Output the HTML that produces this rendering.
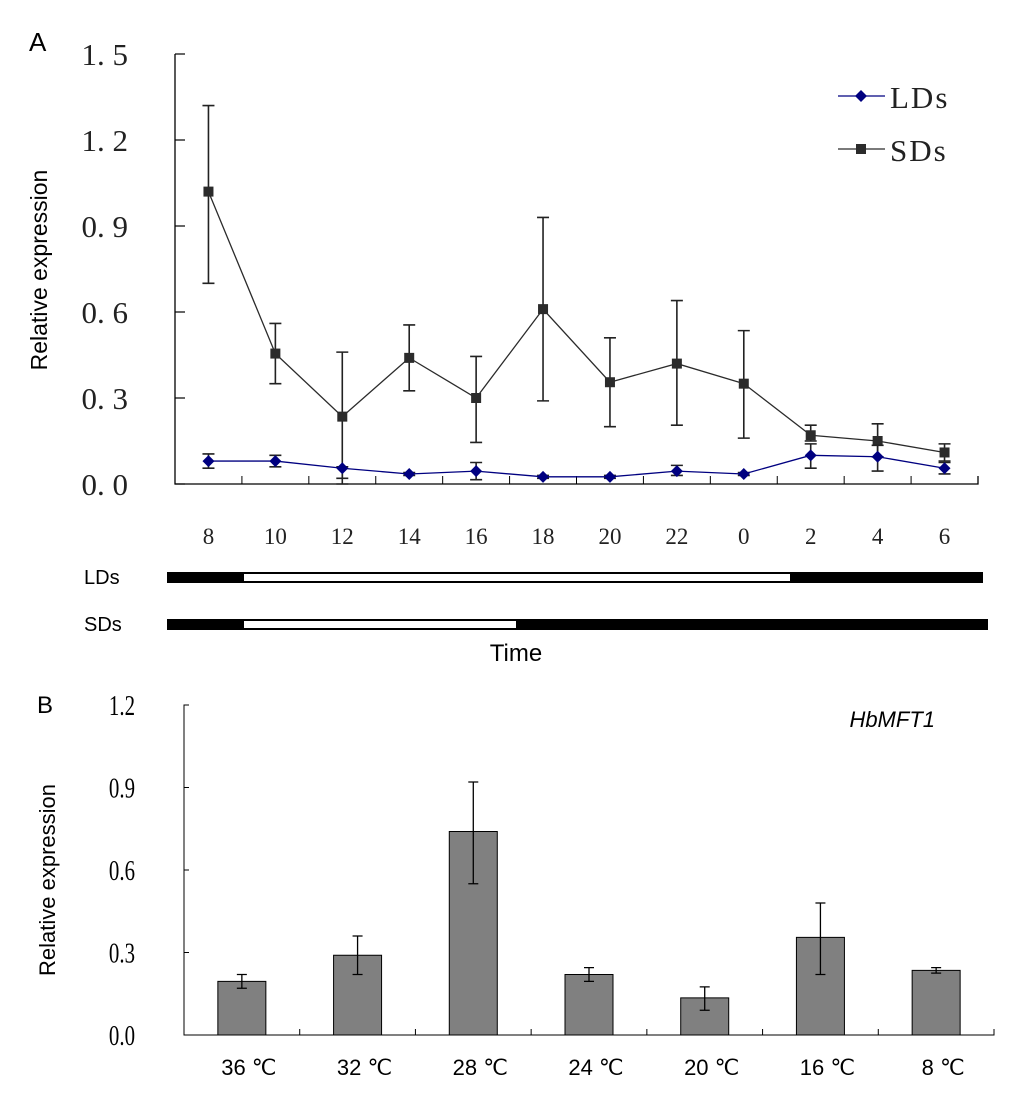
<!DOCTYPE html>
<html><head><meta charset="utf-8"><style>
html,body{margin:0;padding:0;background:#fff;}
svg{display:block;}
</style></head><body>
<svg id="fig" width="1024" height="1102" viewBox="0 0 1024 1102" xmlns="http://www.w3.org/2000/svg">
<g id="panelA"></g>
<g id="panelB"></g>
</svg>
<script>
const timeCats = ["8","10","12","14","16","18","20","22","0","2","4","6"];
const sdsVals = [1.02,0.455,0.235,0.44,0.30,0.61,0.355,0.42,0.35,0.17,0.15,0.11];
const sdsLow  = [0.70,0.35,0.0,0.325,0.145,0.29,0.20,0.205,0.16,0.15,0.095,0.08];
const sdsHigh = [1.32,0.56,0.46,0.555,0.445,0.93,0.51,0.64,0.535,0.205,0.21,0.14];
const ldsVals = [0.08,0.08,0.055,0.035,0.045,0.025,0.025,0.045,0.035,0.10,0.095,0.055];
const ldsLow  = [0.055,0.06,0.02,0.03,0.015,0.02,0.02,0.03,0.03,0.055,0.045,0.035];
const ldsHigh = [0.105,0.10,0.06,0.04,0.075,0.03,0.03,0.065,0.04,0.14,0.135,0.075];
const aTicks = ["0. 0","0. 3","0. 6","0. 9","1. 2","1. 5"];
const tempCats = ["36 ℃","32 ℃","28 ℃","24 ℃","20 ℃","16 ℃","8 ℃"];
const barVals = [0.195,0.29,0.74,0.22,0.135,0.355,0.235];
const barLow  = [0.17,0.22,0.55,0.195,0.09,0.22,0.225];
const barHigh = [0.22,0.36,0.92,0.245,0.175,0.48,0.245];
const bTicks = ["0.0","0.3","0.6","0.9","1.2"];

const NS="http://www.w3.org/2000/svg";
function mk(parent,tag,attrs,text){const e=document.createElementNS(NS,tag);for(const k in attrs)e.setAttribute(k,attrs[k]);if(text!==undefined)e.textContent=text;parent.appendChild(e);return e;}

// Panel A
const A=document.getElementById('panelA');
const ax0=175, ax1=978, ay0=484, ay1=54, amax=1.5;
const aBin=(ax1-ax0)/timeCats.length;
const axX=i=>ax0+aBin*(i+0.5);
const axY=v=>ay0-(v/amax)*(ay0-ay1);
let t;
t=mk(A,'text',{x:29,y:51,'font-family':'Liberation Sans, sans-serif','font-size':26},'A');

let ax=mk(A,'path',{d:`M${ax0} ${ay1}H${ax0}V${ay0}H${ax1}V${ay0-8}`,stroke:'#000','stroke-width':1.3,fill:'none'});

aTicks.forEach((lb,i)=>{const v=i*0.3,y=axY(v);
 mk(A,'line',{x1:ax0,x2:ax0+10,y1:y,y2:y,stroke:'#000','stroke-width':1.2});
 const e=mk(A,'text',{x:128,y:y+11,'text-anchor':'end','font-family':'Liberation Serif, serif','font-size':31,fill:'#222'},lb);
 });
timeCats.forEach((c,i)=>{const x=ax0+aBin*(i+1);
 mk(A,'line',{x1:x,x2:x,y1:ay0,y2:ay0-8,stroke:'#000','stroke-width':1});
 const e=mk(A,'text',{x:axX(i),y:544,'text-anchor':'middle','font-family':'Liberation Serif, serif','font-size':23,fill:'#222'},c);
 });
t=mk(A,'text',{x:0,y:0,transform:'translate(47,270) rotate(-90)','text-anchor':'middle','font-family':'Liberation Sans, sans-serif','font-size':23},'Relative expression');

function series(vals,lo,hi,color,marker,name){
 const g=mk(A,'g',{});
 vals.forEach((v,i)=>{const x=axX(i);
  const eb=mk(g,'path',{d:`M${x-6} ${axY(hi[i])}H${x+6}M${x} ${axY(hi[i])}V${axY(lo[i])}M${x-6} ${axY(lo[i])}H${x+6}`,stroke:'#222','stroke-width':1.6,fill:'none'});
  });
 const pl=mk(g,'polyline',{points:vals.map((v,i)=>axX(i)+','+axY(v)).join(' '),stroke:color,'stroke-width':1.3,fill:'none'});
 
 vals.forEach((v,i)=>{const x=axX(i),y=axY(v);let m;
  if(marker==='sq') m=mk(g,'rect',{x:x-5,y:y-5,width:10,height:10,fill:color});
  else m=mk(g,'path',{d:`M${x} ${y-6}L${x+6} ${y}L${x} ${y+6}L${x-6} ${y}Z`,fill:color});
  });
}
series(sdsVals,sdsLow,sdsHigh,'#2b2b2b','sq','sds');
series(ldsVals,ldsLow,ldsHigh,'#000080','dia','lds');
// legend
let lg=mk(A,'g',{});
let le=mk(lg,'g',{});
mk(le,'line',{x1:838,x2:885,y1:96,y2:96,stroke:'#000080','stroke-width':1.3});
mk(le,'path',{d:'M861 90L867 96L861 102L855 96Z',fill:'#000080'});
mk(le,'text',{x:890,y:108,'font-family':'Liberation Serif, serif','font-size':31,fill:'#222','letter-spacing':2},'LDs');
le=mk(lg,'g',{});
mk(le,'line',{x1:838,x2:885,y1:149,y2:149,stroke:'#2b2b2b','stroke-width':1.3});
mk(le,'rect',{x:856,y:144,width:10,height:10,fill:'#2b2b2b'});
mk(le,'text',{x:890,y:161,'font-family':'Liberation Serif, serif','font-size':31,fill:'#222','letter-spacing':2},'SDs');
// photoperiod bars
function pbar(y,x0,xw0,xw1,x1,label,name){
 const g=mk(A,'g',{});
 mk(g,'rect',{x:x0,y:y,width:x1-x0,height:11,fill:'#000'});
 mk(g,'rect',{x:xw0,y:y+2,width:xw1-xw0,height:7,fill:'#fff'});
 mk(g,'text',{x:84,y:y+12,'font-family':'Liberation Sans, sans-serif','font-size':20},label);
}
pbar(572,167,244,790,983,'LDs','lds-photoperiod-bar');
pbar(619,167,244,516,988,'SDs','sds-photoperiod-bar');
t=mk(A,'text',{x:516,y:661,'text-anchor':'middle','font-family':'Liberation Sans, sans-serif','font-size':24},'Time');


// Panel B
const B=document.getElementById('panelB');
const bx0=184, bx1=994, by0=1035, by1=705, bmax=1.2;
const bBin=(bx1-bx0)/tempCats.length;
const bxX=i=>bx0+bBin*(i+0.5);
const byY=v=>by0-(v/bmax)*(by0-by1);
t=mk(B,'text',{x:37,y:713,'font-family':'Liberation Sans, sans-serif','font-size':24},'B');

t=mk(B,'text',{x:935,y:727,'text-anchor':'end','font-family':'Liberation Sans, sans-serif','font-size':22,'font-style':'italic'},'HbMFT1');

t=mk(B,'text',{x:0,y:0,transform:'translate(55,880) rotate(-90)','text-anchor':'middle','font-family':'Liberation Sans, sans-serif','font-size':22},'Relative expression');

ax=mk(B,'path',{d:`M${bx0+5} ${by1}H${bx0}V${by0}H${bx1}V${by0-6}`,stroke:'#000','stroke-width':1,fill:'none'});

bTicks.forEach((lb,i)=>{const y=byY(i*0.3);
 mk(B,'line',{x1:bx0,x2:bx0+5,y1:y,y2:y,stroke:'#000'});
 const e=mk(B,'text',{x:135,y:y+10,'text-anchor':'end','font-family':'Liberation Serif, serif','font-size':29,transform:`translate(135 0) scale(0.72 1) translate(-135 0)`},lb);
 });
tempCats.forEach((c,i)=>{const x=bx0+bBin*(i+1);
 mk(B,'line',{x1:x,x2:x,y1:by0,y2:by0-6,stroke:'#000'});
 const e=mk(B,'text',{x:bxX(i)+7,y:1075,'text-anchor':'middle','font-family':'Liberation Sans, sans-serif','font-size':22},c);
 });
barVals.forEach((v,i)=>{const x=bxX(i);
 const r=mk(B,'rect',{x:x-24,y:byY(v),width:48,height:by0-byY(v),fill:'#808080',stroke:'#000','stroke-width':1});
 
 const eb=mk(B,'path',{d:`M${x-5} ${byY(barHigh[i])}H${x+5}M${x} ${byY(barHigh[i])}V${byY(barLow[i])}M${x-5} ${byY(barLow[i])}H${x+5}`,stroke:'#000','stroke-width':1.3,fill:'none'});
 });
</script>
</body></html>
